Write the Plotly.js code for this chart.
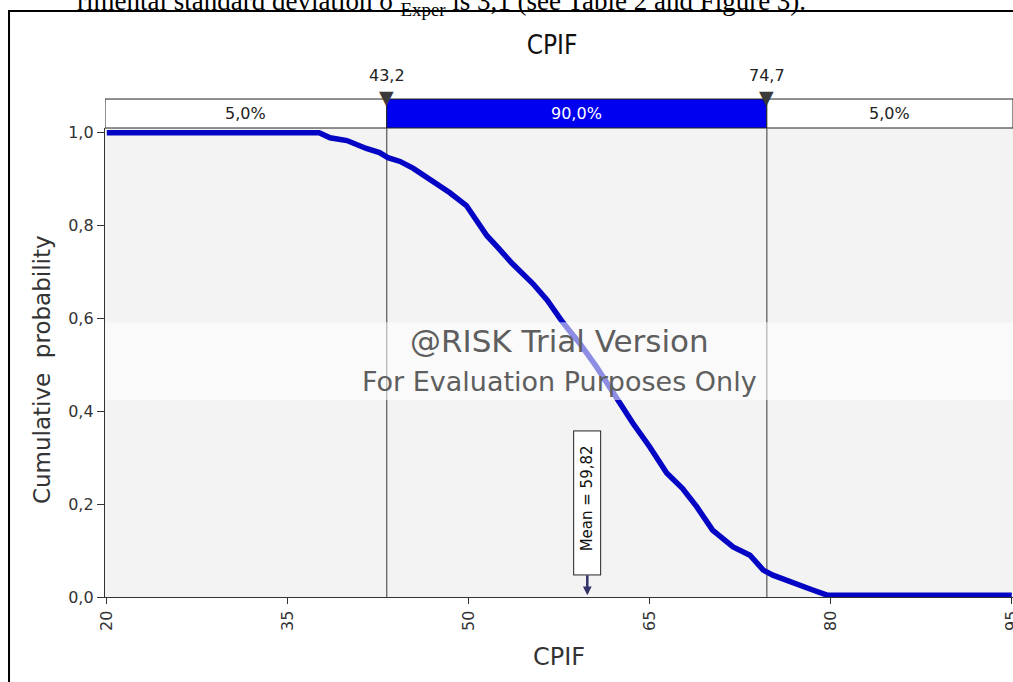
<!DOCTYPE html>
<html>
<head>
<meta charset="utf-8">
<script src="https://cdn.plot.ly/plotly-3.0.1.min.js"></script>
<style>html,body{margin:0;padding:0;background:#fff;}#chart{width:1013px;height:682px;}</style>
</head>
<body>
<div id="chart"></div>
<script>
// ---- data ----
const cpifX = [20, 37.6, 38.5, 39.9, 41.5, 42.6, 43.3, 44.3, 45.4, 47.0, 48.4, 49.8, 50.7, 51.5, 52.4, 53.6, 55.3, 56.5, 57.8, 59.2, 60.6, 62.3, 63.6, 65.0, 66.4, 67.7, 68.9, 70.2, 71.9, 73.3, 74.4, 75.2, 76.8, 78.5, 79.7, 80.3, 95];
const cumProb = [1.0, 1.0, 0.989, 0.983, 0.966, 0.957, 0.946, 0.938, 0.923, 0.897, 0.871, 0.843, 0.806, 0.778, 0.753, 0.718, 0.675, 0.639, 0.591, 0.546, 0.495, 0.425, 0.374, 0.323, 0.267, 0.234, 0.194, 0.144, 0.108, 0.090, 0.058, 0.047, 0.030, 0.015, 0.004, 0.004, 0.004];
const percentileX = [43.2, 74.7];
const percentileLabels = ['43,2', '74,7'];
const bandLabels = ['5,0%', '90,0%', '5,0%'];
const meanValue = 59.82;
const xTicks = [20, 35, 50, 65, 80, 95];
const yTicks = [0, 0.2, 0.4, 0.6, 0.8, 1.0];

// ---- geometry / styles ----
const FONT = 'DejaVu Sans, Verdana, sans-serif';
const FONT_C = 'DejaVu Sans Condensed, DejaVu Sans, sans-serif';
const xMin = 19.85, xMax = 95.1;
const bandBottom = 1.0, bandTop = 1.0618;

const shapes = [];
const annotations = [];
const bandEdges = [xMin, percentileX[0], percentileX[1], xMax];
for (let i = 0; i < 3; i++) {
  shapes.push({type: 'rect', xref: 'x', yref: 'paper', x0: bandEdges[i], x1: bandEdges[i + 1], y0: bandBottom, y1: bandTop,
    fillcolor: i === 1 ? '#0000f0' : '#ffffff', line: {color: '#222', width: 1}, layer: 'below'});
  annotations.push({xref: 'x', yref: 'paper', x: (bandEdges[i] + bandEdges[i + 1]) / 2, y: (bandBottom + bandTop) / 2,
    yanchor: 'middle', xanchor: 'center',
    text: bandLabels[i], showarrow: false, font: {family: FONT, size: 16, color: i === 1 ? '#ffffff' : '#222'}});
}
percentileX.forEach((px, i) => {
  shapes.push({type: 'line', xref: 'x', yref: 'paper', x0: px, x1: px, y0: 0, y1: bandBottom, line: {color: '#555', width: 1.2}, layer: 'below'});
  annotations.push({xref: 'x', yref: 'paper', x: px, y: 1.1110, yanchor: 'middle', xanchor: 'center',
    text: percentileLabels[i], showarrow: false, font: {family: FONT, size: 16, color: '#222'}});
  // down-pointing marker on the band top
  annotations.push({xref: 'x', yref: 'paper', x: px, y: 1.0660, yanchor: 'middle', xanchor: 'center',
    text: '▼', showarrow: false, font: {family: FONT, size: 19, color: '#3a3a3a'}});
});
// watermark band
shapes.push({type: 'rect', xref: 'paper', yref: 'paper', x0: 0, x1: 1, y0: 0.42, y1: 0.586,
  fillcolor: 'rgba(255,255,255,0.55)', line: {width: 0}, layer: 'above'});
// outer frame
shapes.push({type: 'rect', xref: 'paper', yref: 'paper', x0: -0.1057, x1: 1.01, y0: -0.2, y1: 1.2495,
  fillcolor: 'rgba(0,0,0,0)', line: {color: '#000', width: 2}, layer: 'above'});

annotations.push({xref: 'paper', yref: 'paper', x: 0.5, y: 0.545, yanchor: 'middle', text: '@RISK Trial Version', showarrow: false,
  font: {family: FONT, size: 31, color: '#5e5e5e'}});
annotations.push({xref: 'paper', yref: 'paper', x: 0.5, y: 0.460, yanchor: 'middle', text: 'For Evaluation Purposes Only', showarrow: false,
  font: {family: FONT, size: 27, color: '#5e5e5e'}});
// mean marker
annotations.push({xref: 'x', yref: 'y', x: meanValue, y: 0.004,
  text: '&nbsp;&nbsp;&nbsp;&nbsp;Mean = ' + meanValue.toFixed(2).replace('.', ',') + '&nbsp;&nbsp;',
  textangle: -90, showarrow: true, ax: 0, ay: -92, arrowcolor: '#33336a', arrowwidth: 2.5, arrowhead: 2, arrowsize: 0.7,
  bgcolor: '#ffffff', bordercolor: '#222', borderwidth: 1, borderpad: 4, font: {family: FONT, size: 15, color: '#111'}});
// y axis title
annotations.push({xref: 'paper', yref: 'paper', x: -0.0694, y: 0.486, xanchor: 'center', yanchor: 'middle', textangle: -90,
  text: 'Cumulative&nbsp; probability', showarrow: false, font: {family: FONT, size: 23, color: '#333'}});
// top document text (cropped)
annotations.push({xref: 'paper', yref: 'paper', x: 0.774, y: 1.2665, xanchor: 'right', yanchor: 'middle', showarrow: false,
  text: 'rimental standard deviation σ <sub>Exper</sub> is 3,1 (see Table 2 and Figure 3).',
  font: {family: 'Liberation Serif, Times New Roman, serif', size: 27, color: '#000'}});

const data = [
  {x: cpifX, y: cumProb, type: 'scatter', mode: 'lines', line: {color: '#0404c4', width: 5.5}, hoverinfo: 'skip'}
];

const layout = {
  width: 1013, height: 682,
  margin: {l: 105, r: 0, t: 128, b: 85},
  paper_bgcolor: '#ffffff', plot_bgcolor: '#f3f3f3',
  separators: ', ',
  showlegend: false,
  title: {text: 'CPIF', x: 0.545, xanchor: 'center', y: 0.934, yanchor: 'middle', font: {family: FONT_C, size: 26, color: '#111'}},
  xaxis: {range: [xMin, xMax], tickvals: xTicks, ticktext: xTicks.map(String), tickangle: -90, ticks: 'outside', ticklen: 6,
    tickcolor: '#333', showgrid: false, zeroline: false, showline: true, linecolor: '#333', linewidth: 1.2,
    ticklabeloverflow: 'allow',
    tickfont: {family: FONT, size: 16, color: '#333'},
    title: {text: 'CPIF', standoff: 18, font: {family: FONT, size: 24, color: '#333'}}},
  yaxis: {range: [0, 1.01], tickvals: yTicks, tickformat: '.1f', ticks: 'outside', ticklen: 7, tickcolor: '#333',
    showgrid: false, zeroline: false, showline: true, linecolor: '#333', linewidth: 1.2,
    tickfont: {family: FONT, size: 16, color: '#333'}},
  shapes: shapes,
  annotations: annotations
};

Plotly.newPlot('chart', data, layout, {displayModeBar: false, staticPlot: true});
</script>
</body>
</html>
